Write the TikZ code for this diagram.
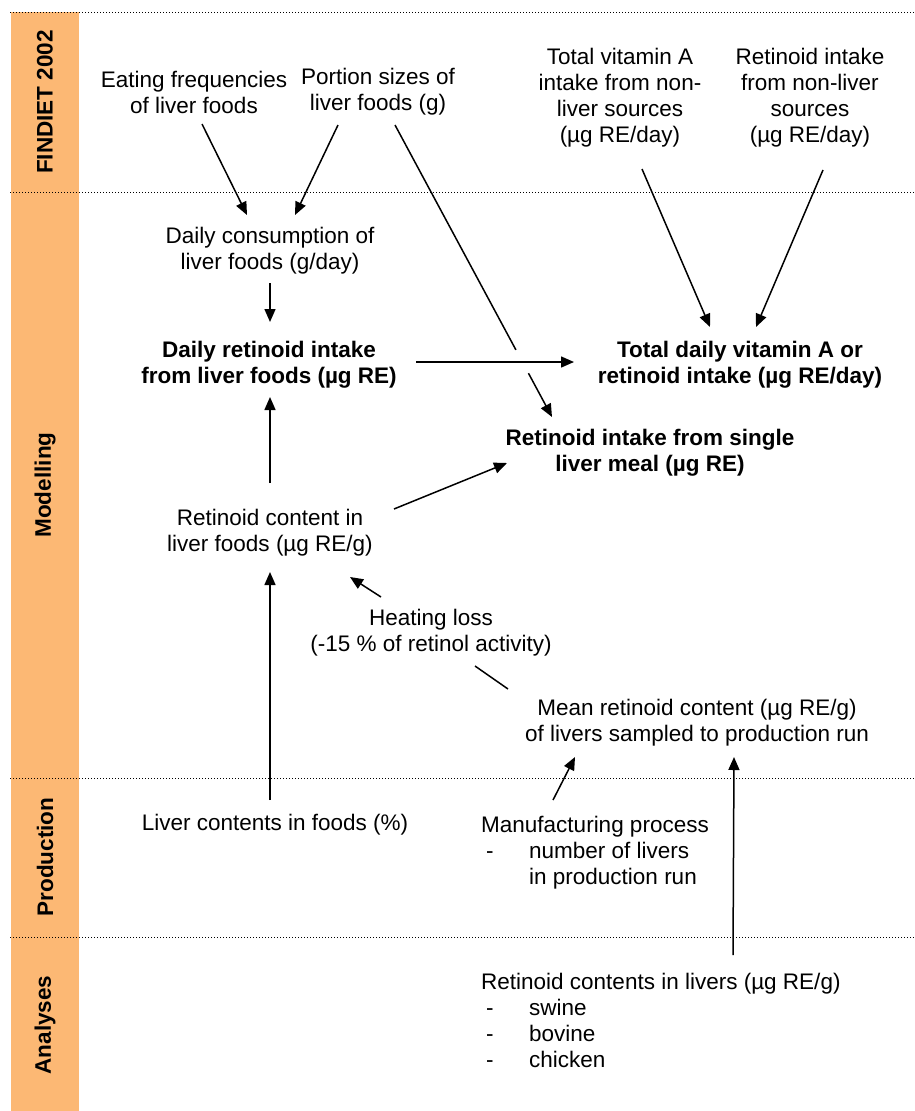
\documentclass[tikz,border=0pt]{standalone}
\usepackage{fontspec}
\setmainfont{Liberation Sans}
\usetikzlibrary{arrows.meta,calc}
\definecolor{barorange}{RGB}{252,184,116}
\begin{document}
\begin{tikzpicture}[x=1pt,y=-1pt,
  txt/.style={align=center, font=\fontsize{22.5}{26}\selectfont, inner sep=0pt},
  btxt/.style={align=center, font=\fontsize{22.5}{26}\selectfont\bfseries, inner sep=0pt},
  ltxt/.style={align=left, font=\fontsize{22.5}{26}\selectfont, inner sep=0pt},
  side/.style={rotate=90, font=\fontsize{22.5}{26}\selectfont\bfseries, inner sep=0pt},
  arr/.style={-{Triangle[length=13pt,width=11pt]}, line width=1.5pt},
  ln/.style={line width=1.5pt},
  sep/.style={line width=0.9pt, dash pattern=on 1pt off 2pt}]
\useasboundingbox (0,0) rectangle (914,1111);
% sidebar
\fill[barorange] (11,12) rectangle (79,1111);
\foreach \yy in {12,192,778,937} \draw[sep] (10,\yy) -- (914,\yy);
\node[side] (s1) at (45,102) {FINDIET 2002};
\node[side] (s2) at (45,485) {Modelling};
\node[side] (s3) at (45,857) {Production};
\node[side] (s4) at (45,1025) {Analyses};
% nodes
\node[txt] (ef) at (194,92) {Eating frequencies\\of liver foods};
\node[txt] (ps) at (378,92) {Portion sizes of\\liver foods (g)};
\node[txt] (tv) at (620,98) {Total vitamin A\\intake from non-\\liver sources\\(µg RE/day)};
\node[txt] (rn) at (810,98) {Retinoid intake\\from non-liver\\sources\\(µg RE/day)};
\node[txt] (dc) at (270,251) {Daily consumption of\\liver foods (g/day)};
\node[btxt] (dr) at (269,365) {Daily retinoid intake\\from liver foods (µg RE)};
\node[btxt] (td) at (740,365) {Total daily vitamin A or\\retinoid intake (µg RE/day)};
\node[btxt] (sm) at (650,453) {Retinoid intake from single\\liver meal (µg RE)};
\node[txt] (rc) at (270,533) {Retinoid content in\\liver foods (µg RE/g)};
\node[txt] (hl) at (431,633) {Heating loss\\(-15 \% of retinol activity)};
\node[txt] (mr) at (697,723) {Mean retinoid content (µg RE/g)\\of livers sampled to production run};
\node[txt] (lc) at (275,825) {Liver contents in foods (\%)};
\node[ltxt, anchor=north west] (mp) at (481,816) {Manufacturing process\\\makebox[48pt][l]{\hspace*{5pt}-}number of livers\\\hspace*{48pt}in production run};
\node[ltxt, anchor=north west] (rl) at (481,973) {Retinoid contents in livers (µg RE/g)\\\makebox[48pt][l]{\hspace*{5pt}-}swine\\\makebox[48pt][l]{\hspace*{5pt}-}bovine\\\makebox[48pt][l]{\hspace*{5pt}-}chicken};
% connectors
\draw[arr] ($(ef.center)+(8,32)$) -- ($(dc.center)+(-23,-36)$);
\draw[arr] ($(ps.center)+(-40,33)$) -- ($(dc.center)+(25,-36)$);
\coordinate (p3a) at ($(ps.center)+(17,33)$);
\coordinate (p3b) at ($(sm.center)+(-98,-36)$);
\draw[ln] (p3a) -- ($(p3a)!0.77!(p3b)$);
\draw[arr] ($(p3a)!0.85!(p3b)$) -- (p3b);
\draw[arr] ($(dc.center)+(0,32)$) -- ($(dr.center)+(1,-43)$);
\draw[arr] ($(dr.center)+(147,-3)$) -- ($(td.center)+(-166,-3)$);
\draw[arr] ($(tv.center)+(22,71)$) -- ($(td.center)+(-30,-38)$);
\draw[arr] ($(rn.center)+(13,72)$) -- ($(td.center)+(16,-38)$);
\draw[arr] ($(rc.center)+(0,-50)$) -- ($(dr.center)+(1,32)$);
\draw[arr] ($(rc.center)+(124,-24)$) -- ($(sm.center)+(-143,10)$);
\draw[arr] ($(hl.center)+(-50,-36)$) -- ($(rc.center)+(80,44)$);
\draw[ln] ($(mr.center)+(-189,-34)$) -- ($(hl.center)+(44,33)$);
\draw[arr] ($(lc.center)+(-5,-25)$) -- ($(rc.center)+(0,39)$);
\draw[arr] ($(mp.north west)+(72,-16)$) -- ($(mr.center)+(-122,34)$);
\draw[arr] ($(rl.north west)+(252,-18)$) -- ($(mr.center)+(37,34)$);
\end{tikzpicture}
\end{document}
